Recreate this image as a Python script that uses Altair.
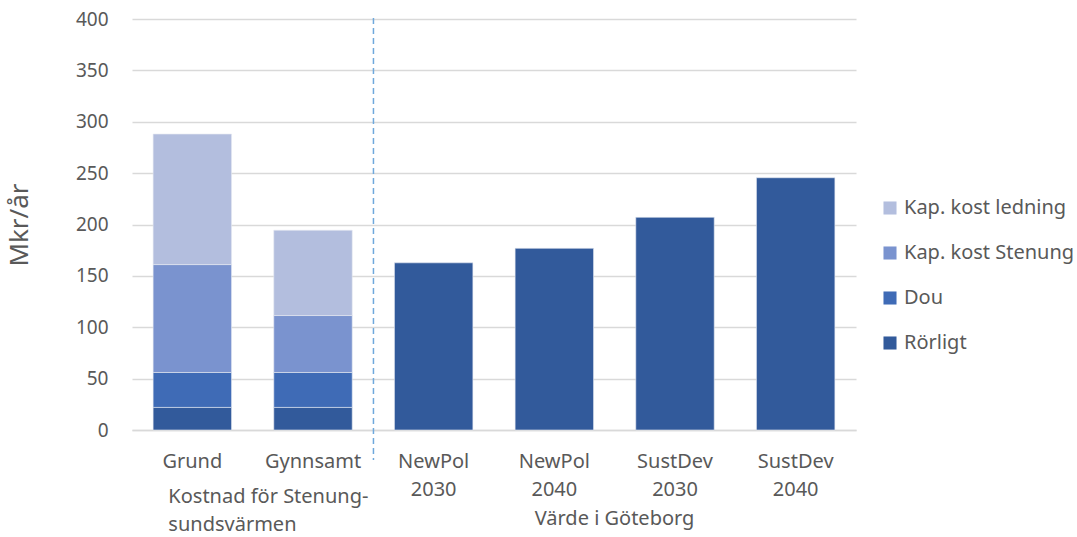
import altair as alt
import pandas as pd

categories = ["Grund", "Gynnsamt", "NewPol\n2030", "NewPol\n2040", "SustDev\n2030", "SustDev\n2040"]
series = ["Rörligt", "Dou", "Kap. kost Stenung", "Kap. kost ledning"]
rorligt = [22, 22, 162.7, 176.8, 207, 245.5]
dou = [34, 34, 0, 0, 0, 0]
stenung = [105, 55.4, 0, 0, 0, 0]
ledning = [127, 83, 0, 0, 0, 0]
colors = ["#325A9B", "#3F6BB6", "#7A93CF", "#B3BEDE"]
legend_order = ["Kap. kost ledning", "Kap. kost Stenung", "Dou", "Rörligt"]

groups = ["Kostnad för Stenung-\nsundsvärmen", "Värde i Göteborg"]

rows = []
for s_i, (name, vals) in enumerate(zip(series, [rorligt, dou, stenung, ledning])):
    for c, v in zip(categories, vals):
        if v > 0:
            rows.append({"cat": c, "series": name, "value": v, "ord": s_i})
df = pd.DataFrame(rows)

W, H = 724, 411
FONT = "Noto Sans"
GRAY = "#595959"

xscale = alt.Scale(domain=categories, paddingInner=0.35, paddingOuter=0.175)

bars = alt.Chart(df).mark_bar(stroke="#E6E9F2", strokeWidth=0.6).encode(
    x=alt.X("cat:N", scale=xscale, sort=categories,
            axis=alt.Axis(title=None, labelExpr="split(datum.label, '\\n')",
                          labelAngle=0, labelFontSize=20, labelColor=GRAY, labelFont=FONT,
                          labelPadding=21, labelLineHeight=28, ticks=False, domain=True,
                          domainColor="#D9D9D9", domainWidth=1.5, labelBaseline="top")),
    y=alt.Y("value:Q", stack="zero",
            scale=alt.Scale(domain=[0, 400], nice=False),
            axis=alt.Axis(title="Mkr/år", values=list(range(0, 401, 50)), grid=True,
                          gridColor="#D9D9D9", gridWidth=1.5, domain=False, ticks=False,
                          labelFontSize=19, labelColor=GRAY, labelFont=FONT, labelPadding=24,
                          titleFontSize=26, titleColor=GRAY, titleFont=FONT,
                          titleFontWeight="normal", titleX=-100)),
    color=alt.Color("series:N",
                    scale=alt.Scale(domain=series, range=colors),
                    sort=legend_order,
                    legend=alt.Legend(title=None, orient="none", legendX=748, legendY=179,
                                      labelFontSize=20, labelColor=GRAY, labelFont=FONT,
                                      labelLimit=400,
                                      symbolType="square", symbolSize=170,
                                      symbolStrokeWidth=0, rowPadding=25, labelOffset=4,
                                      values=legend_order)),
    order=alt.Order("ord:Q", sort="ascending"),
)

sep = alt.Chart(pd.DataFrame({"c": [categories[2]]})).mark_rule(
    color="#6FA8DC", strokeDash=[6, 4], strokeWidth=1.5, xOffset=-21
).encode(
    x=alt.X("c:N", scale=xscale, bandPosition=0),
    y=alt.value(-1), y2=alt.value(H + 30),
)

gdf = pd.DataFrame({"cat": [categories[0], categories[3]], "label": groups})
g1 = alt.Chart(gdf.iloc[[0]]).mark_text(
    align="left", baseline="top", fontSize=20, color=GRAY, font=FONT,
    dx=-24, lineHeight=28, lineBreak="\n"
).encode(
    x=alt.X("cat:N", scale=xscale, bandPosition=0.5),
    y=alt.value(H + 57), text="label:N",
)
g2 = alt.Chart(gdf.iloc[[1]]).mark_text(
    align="center", baseline="top", fontSize=20, color=GRAY, font=FONT,
    dx=21, lineHeight=28
).encode(
    x=alt.X("cat:N", scale=xscale, bandPosition=1.0),
    y=alt.value(H + 79), text="label:N",
)

chart = alt.layer(bars, sep, g1, g2).properties(
    width=W, height=H,
    background="white",
    autosize=alt.AutoSizeParams(type="none"),
    padding={"left": 132, "top": 19, "right": 1077 - 132 - W, "bottom": 537 - 19 - H},
).configure_view(stroke=None)

chart.save("out.html", embed_options={"renderer": "svg", "actions": False})
